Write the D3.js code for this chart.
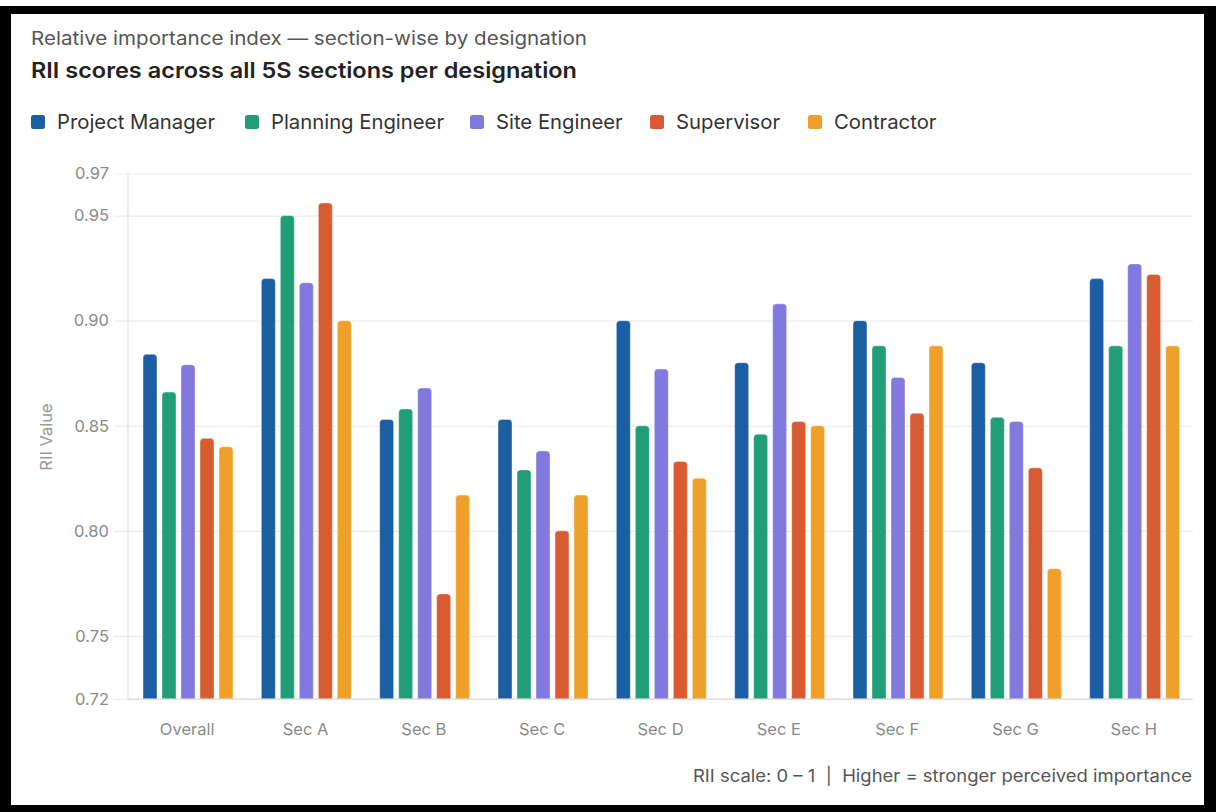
<!DOCTYPE html>
<html>
<head>
<meta charset="utf-8">
<script src="https://cdn.jsdelivr.net/npm/d3@7"></script>
<style>
  html, body { margin: 0; padding: 0; background: #fff; }
  svg { display: block; }
  text { font-family: Inter, "Noto Sans", sans-serif; }
</style>
</head>
<body>
<svg id="chart" width="1216" height="812"></svg>
<script>
// Section-wise RII scores for each designation
const categories = ["Overall", "Sec A", "Sec B", "Sec C", "Sec D", "Sec E", "Sec F", "Sec G", "Sec H"];
const series = ["Project Manager", "Planning Engineer", "Site Engineer", "Supervisor", "Contractor"];
const projectManager   = [0.884, 0.920, 0.853, 0.853, 0.900, 0.880, 0.900, 0.880, 0.920];
const planningEngineer = [0.866, 0.950, 0.858, 0.829, 0.850, 0.846, 0.888, 0.854, 0.888];
const siteEngineer     = [0.879, 0.918, 0.868, 0.838, 0.877, 0.908, 0.873, 0.852, 0.927];
const supervisor       = [0.844, 0.956, 0.770, 0.800, 0.833, 0.852, 0.856, 0.830, 0.922];
const contractor       = [0.840, 0.900, 0.817, 0.817, 0.825, 0.850, 0.888, 0.782, 0.888];
const yTicks = [0.72, 0.75, 0.80, 0.85, 0.90, 0.95, 0.97];
const colors = ["#1c5ea4", "#1f9e77", "#8179dd", "#d95b31", "#efa02b"];

const values = [projectManager, planningEngineer, siteEngineer, supervisor, contractor];

(function draw() {
  const svg = d3.select("#chart");

  // frame
  svg.append("rect").attr("x", 0).attr("y", 6).attr("width", 1216).attr("height", 8).attr("fill", "#000");
  svg.append("rect").attr("x", 0).attr("y", 6).attr("width", 11).attr("height", 806).attr("fill", "#000");
  svg.append("rect").attr("x", 0).attr("y", 805).attr("width", 1216).attr("height", 7).attr("fill", "#000");
  svg.append("rect").attr("x", 1204).attr("y", 6).attr("width", 12).attr("height", 806).attr("fill", "#000");

  // headings
  svg.append("text").attr("x", 31).attr("y", 45)
    .attr("font-size", 18.5).attr("fill", "#555")
    .attr("textLength", 556).attr("lengthAdjust", "spacingAndGlyphs")
    .text("Relative importance index — section-wise by designation");
  svg.append("text").attr("x", 31).attr("y", 78)
    .attr("font-size", 21.5).attr("font-weight", 600).attr("fill", "#222")
    .attr("textLength", 546).attr("lengthAdjust", "spacingAndGlyphs")
    .text("RII scores across all 5S sections per designation");

  // legend
  const legendX = [31, 245, 470, 650, 808];
  const legend = svg.append("g");
  series.forEach((name, i) => {
    const g = legend.append("g").attr("transform", `translate(${legendX[i]},122)`);
    g.append("rect").attr("x", 0).attr("y", -7).attr("width", 14).attr("height", 14)
      .attr("rx", 2.5).attr("fill", colors[i]);
    g.append("text").attr("x", 26).attr("y", 0).attr("dy", "0.36em")
      .attr("font-size", 20.3).attr("fill", "#333").text(name);
  });

  // scales
  const plotLeft = 128, plotRight = 1193, plotTop = 173.5, plotBottom = 699;
  const x0 = d3.scaleBand().domain(categories).range([plotLeft, plotRight]).padding(0);
  const x1 = d3.scaleBand().domain(series).range([15, 105]).paddingInner(5 / 19).paddingOuter(0);
  const y = d3.scaleLinear().domain([0.72, 0.97]).range([plotBottom, plotTop]);

  // grid and y axis
  const yAxis = d3.axisLeft(y).tickValues(yTicks).tickFormat(d3.format(".2f"))
    .tickSize(0).tickPadding(5);
  const yg = svg.append("g").attr("transform", `translate(${plotLeft - 14},0)`).call(yAxis);
  yg.select(".domain").remove();
  yg.selectAll(".tick line").attr("stroke", "#ebebeb").attr("stroke-width", 1.2)
    .attr("x1", 0).attr("x2", plotRight - plotLeft + 14);
  yg.selectAll(".tick text").attr("font-size", 16.5).attr("fill", "#8a8a8a");

  // vertical axis line
  svg.append("line").attr("x1", plotLeft).attr("x2", plotLeft).attr("y1", plotTop).attr("y2", plotBottom)
    .attr("stroke", "#e2e2e2").attr("stroke-width", 1.2);

  // bars with rounded top corners
  function barPath(x, yTop, w, yBase, r) {
    return `M${x},${yBase}V${yTop + r}Q${x},${yTop} ${x + r},${yTop}H${x + w - r}Q${x + w},${yTop} ${x + w},${yTop + r}V${yBase}Z`;
  }
  const groups = svg.append("g").selectAll("g").data(categories).join("g")
    .attr("transform", d => `translate(${x0(d)},0)`);
  groups.selectAll("path")
    .data((d, ci) => series.map((s, si) => ({ s, si, v: values[si][ci] })))
    .join("path")
    .attr("d", d => barPath(x1(d.s), y(d.v), x1.bandwidth(), y(0.72), 3.5))
    .attr("fill", d => colors[d.si])
    .attr("stroke", "#fff").attr("stroke-opacity", 0.5).attr("stroke-width", 0.8);

  // x axis baseline and labels
  svg.append("line").attr("x1", plotLeft).attr("x2", plotRight).attr("y1", plotBottom).attr("y2", plotBottom)
    .attr("stroke", "#d6d6d6").attr("stroke-width", 1.2);
  const xAxis = d3.axisBottom(x0).tickSize(0).tickPadding(24);
  const xg = svg.append("g").attr("transform", `translate(0,${plotBottom})`).call(xAxis);
  xg.select(".domain").remove();
  xg.selectAll(".tick text").attr("font-size", 16.5).attr("fill", "#8a8a8a");

  // y title
  svg.append("text").attr("transform", "translate(52,437) rotate(-90)")
    .attr("text-anchor", "middle")
    .attr("font-size", 16.5).attr("fill", "#9a9a9a").text("RII Value");

  // footnote
  svg.append("text").attr("x", 1192).attr("y", 782).attr("text-anchor", "end")
    .style("white-space", "pre")
    .attr("font-size", 17).attr("fill", "#555")
    .attr("textLength", 499).attr("lengthAdjust", "spacingAndGlyphs")
    .text("RII scale: 0 – 1  |  Higher = stronger perceived importance");
})();
</script>
</body>
</html>
